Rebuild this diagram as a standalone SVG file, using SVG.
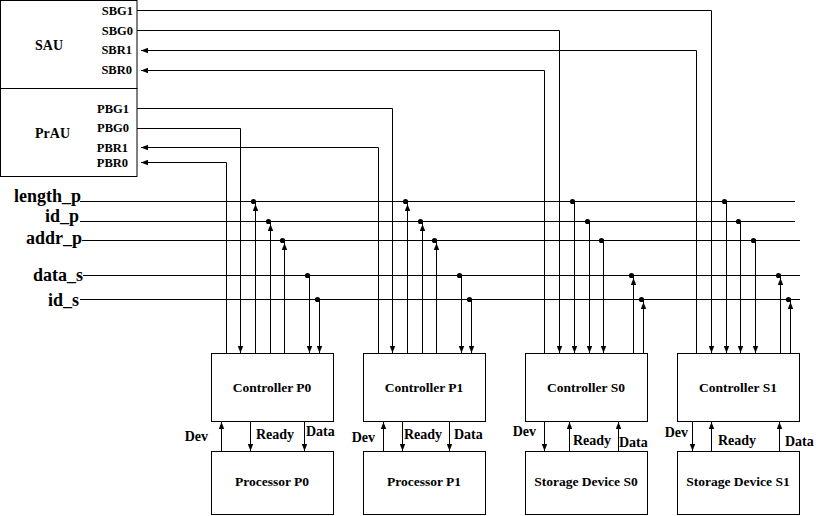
<svg xmlns="http://www.w3.org/2000/svg" width="819" height="516" viewBox="0 0 819 516">
<style>
rect{fill:#fff;stroke:#000;stroke-width:1}
text{font-family:"Liberation Serif","Times New Roman",serif;font-weight:bold;fill:#000}
.port{font-size:12.5px;text-anchor:end}
.unit{font-size:14px}
.bus{font-size:18px;text-anchor:end}
.box{font-size:13.5px;text-anchor:middle}
.sig{font-size:14px}
#connectors path{fill:none;stroke:#000;stroke-width:1}
#connectors .a{marker-end:url(#ah)}
#connectors circle{fill:#000}
</style>
<defs>
<marker id="ah" markerUnits="userSpaceOnUse" markerWidth="8" markerHeight="6" refX="7" refY="3" orient="auto">
<path d="M0,0.3 L7,3 L0,5.7 z" fill="#000"/>
</marker>
</defs>
<rect width="819" height="516" style="stroke:none"/>

<g id="SAU">
<rect x="0.5" y="0.5" width="136.5" height="88"/>
<text class="unit" x="35" y="50">SAU</text>
<text class="port" x="133" y="15">SBG1</text>
<text class="port" x="133" y="35">SBG0</text>
<text class="port" x="132" y="54">SBR1</text>
<text class="port" x="132" y="74">SBR0</text>
</g>
<g id="PrAU">
<rect x="0.5" y="88.5" width="136.5" height="88"/>
<text class="unit" x="35" y="138">PrAU</text>
<text class="port" x="129" y="113">PBG1</text>
<text class="port" x="129" y="132">PBG0</text>
<text class="port" x="128" y="152">PBR1</text>
<text class="port" x="128" y="167">PBR0</text>
</g>

<g id="bus-labels">
<text class="bus" x="81" y="202">length_p</text>
<text class="bus" x="79" y="222">id_p</text>
<text class="bus" x="82" y="244">addr_p</text>
<text class="bus" x="83" y="281">data_s</text>
<text class="bus" x="79" y="306">id_s</text>
</g>

<g id="ControllerP0"><rect x="211.5" y="353.5" width="122" height="68"/><text class="box" x="272" y="392">Controller P0</text></g>
<g id="ControllerP1"><rect x="363.5" y="353.5" width="122" height="68"/><text class="box" x="424" y="392">Controller P1</text></g>
<g id="ControllerS0"><rect x="525.5" y="353.5" width="122" height="68"/><text class="box" x="586" y="392">Controller S0</text></g>
<g id="ControllerS1"><rect x="677.5" y="353.5" width="122" height="68"/><text class="box" x="738" y="392">Controller S1</text></g>

<g id="ProcessorP0"><rect x="211.5" y="451.5" width="122" height="63"/><text class="box" x="272" y="486">Processor P0</text></g>
<g id="ProcessorP1"><rect x="363.5" y="451.5" width="122" height="63"/><text class="box" x="424" y="486">Processor P1</text></g>
<g id="StorageS0"><rect x="525.5" y="451.5" width="122" height="63"/><text class="box" x="586" y="486">Storage Device S0</text></g>
<g id="StorageS1"><rect x="677.5" y="451.5" width="122" height="63"/><text class="box" x="738" y="486">Storage Device S1</text></g>

<g id="connectors">
<!-- arbitration lines -->
<path class="a" d="M137,10.5 H711.5 V353"/>
<path class="a" d="M137,30.5 H559.5 V353"/>
<path class="a" d="M696.5,353 V50.5 H141"/>
<path class="a" d="M544.5,353 V70.5 H141"/>
<path class="a" d="M137,108.5 H392.5 V353"/>
<path class="a" d="M137,128.5 H240.5 V353"/>
<path class="a" d="M378.5,353 V147.5 H141"/>
<path class="a" d="M226.5,353 V162.5 H141"/>
<!-- buses -->
<path d="M80,201.5 H795"/>
<path d="M80,221.5 H795"/>
<path d="M82,240.5 H800"/>
<path d="M83,275.5 H800"/>
<path d="M80,299.5 H800"/>
<!-- P0 -->
<path class="a" d="M255.5,353 V204"/><path d="M255.5,204 V201"/><circle cx="253.5" cy="201.5" r="2.6"/>
<path class="a" d="M270.5,353 V224"/><path d="M270.5,224 V221"/><circle cx="268.5" cy="221.5" r="2.6"/>
<path class="a" d="M284.5,353 V243"/><path d="M284.5,243 V240"/><circle cx="282.5" cy="240.5" r="2.6"/>
<path class="a" d="M309.5,275.5 V353"/><circle cx="307.5" cy="275.5" r="2.6"/>
<path class="a" d="M319.5,299.5 V353"/><circle cx="317.5" cy="299.5" r="2.6"/>
<!-- P1 -->
<path class="a" d="M407.5,353 V204"/><path d="M407.5,204 V201"/><circle cx="405.5" cy="201.5" r="2.6"/>
<path class="a" d="M422.5,353 V224"/><path d="M422.5,224 V221"/><circle cx="420.5" cy="221.5" r="2.6"/>
<path class="a" d="M436.5,353 V243"/><path d="M436.5,243 V240"/><circle cx="434.5" cy="240.5" r="2.6"/>
<path class="a" d="M461.5,275.5 V353"/><circle cx="459.5" cy="275.5" r="2.6"/>
<path class="a" d="M471.5,299.5 V353"/><circle cx="469.5" cy="299.5" r="2.6"/>
<!-- S0 -->
<path class="a" d="M574.5,201.5 V353"/><circle cx="572.5" cy="201.5" r="2.6"/>
<path class="a" d="M589.5,221.5 V353"/><circle cx="587.5" cy="221.5" r="2.6"/>
<path class="a" d="M603.5,240.5 V353"/><circle cx="601.5" cy="240.5" r="2.6"/>
<path class="a" d="M633.5,353 V278"/><path d="M633.5,278 V275"/><circle cx="631.5" cy="275.5" r="2.6"/>
<path class="a" d="M643.5,353 V302"/><path d="M643.5,302 V299"/><circle cx="641.5" cy="299.5" r="2.6"/>
<!-- S1 -->
<path class="a" d="M726.5,201.5 V353"/><circle cx="724.5" cy="201.5" r="2.6"/>
<path class="a" d="M740.5,221.5 V353"/><circle cx="738.5" cy="221.5" r="2.6"/>
<path class="a" d="M755.5,240.5 V353"/><circle cx="753.5" cy="240.5" r="2.6"/>
<path class="a" d="M780.5,353 V278"/><path d="M780.5,278 V275"/><circle cx="778.5" cy="275.5" r="2.6"/>
<path class="a" d="M790.5,353 V302"/><path d="M790.5,302 V299"/><circle cx="788.5" cy="299.5" r="2.6"/>
<!-- lower links -->
<path class="a" d="M221.5,451 V422"/>
<path class="a" d="M250.5,422 V451"/>
<path class="a" d="M304.5,422 V451"/>
<path class="a" d="M383.5,451 V422"/>
<path class="a" d="M402.5,422 V451"/>
<path class="a" d="M449.5,422 V451"/>
<path class="a" d="M544.5,422 V451"/>
<path class="a" d="M569.5,451 V422"/>
<path class="a" d="M618.5,451 V422"/>
<path class="a" d="M692.5,422 V451"/>
<path class="a" d="M711.5,451 V422"/>
<path class="a" d="M779.5,451 V422"/>
</g>

<g id="link-labels">
<text class="sig" x="208" y="441" text-anchor="end">Dev</text>
<text class="sig" x="256" y="439">Ready</text>
<text class="sig" x="306" y="436">Data</text>
<text class="sig" x="375" y="442" text-anchor="end">Dev</text>
<text class="sig" x="404" y="439">Ready</text>
<text class="sig" x="454" y="439">Data</text>
<text class="sig" x="536" y="436" text-anchor="end">Dev</text>
<text class="sig" x="573" y="445">Ready</text>
<text class="sig" x="619" y="447">Data</text>
<text class="sig" x="688" y="437" text-anchor="end">Dev</text>
<text class="sig" x="718" y="445">Ready</text>
<text class="sig" x="785" y="446">Data</text>
</g>
</svg>
